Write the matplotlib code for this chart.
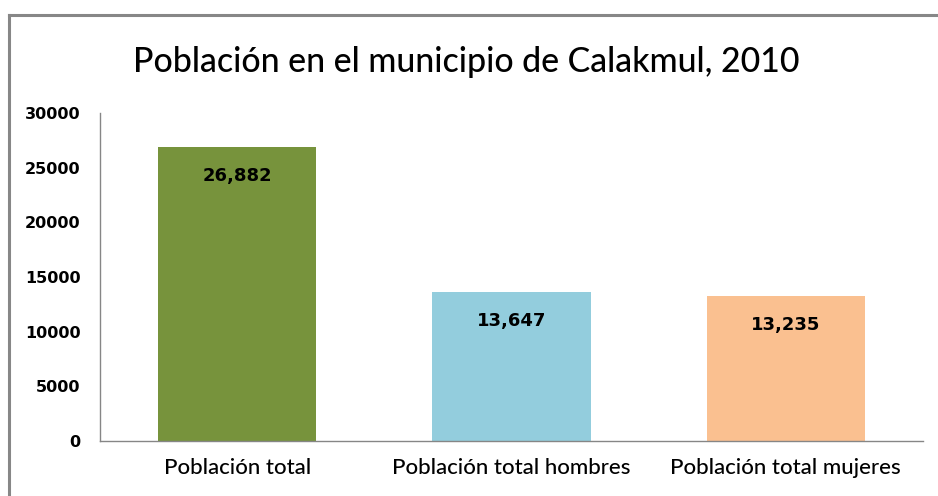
import matplotlib
matplotlib.use("Agg")
import matplotlib.pyplot as plt
from matplotlib.lines import Line2D

categories = ["Población total", "Población total hombres", "Población total mujeres"]
values = [26882, 13647, 13235]
labels = ["26,882", "13,647", "13,235"]
colors = ["#77933C", "#93CDDD", "#FAC090"]
yticks = [0, 5000, 10000, 15000, 20000, 25000, 30000]
title = "Población en el municipio de Calakmul, 2010"

W, H = 938, 496
fig = plt.figure(figsize=(W / 100, H / 100), dpi=100)
ax = fig.add_axes([100 / W, 55 / H, 823 / W, 328 / H])

x = range(len(categories))
bars = ax.bar(x, values, width=0.576, color=colors, zorder=2)
ax.set_xlim(-0.5, len(categories) - 0.5)
ax.set_ylim(0, 30000)
ax.set_yticks(yticks)
ax.set_yticklabels([str(t) for t in yticks], fontfamily="DejaVu Sans",
                   fontweight="bold", fontsize=11.5)
ax.set_xticks(list(x))
ax.set_xticklabels(categories, fontfamily="Lato", fontweight="medium", fontsize=16)
ax.tick_params(axis="both", length=0)
ax.tick_params(axis="y", pad=14)
ax.tick_params(axis="x", pad=12)
for s in ["top", "right"]:
    ax.spines[s].set_visible(False)
for s in ["left", "bottom"]:
    ax.spines[s].set_color("#868686")
    ax.spines[s].set_linewidth(1.0)

for b, lab in zip(bars, labels):
    ax.annotate(lab, (b.get_x() + b.get_width() / 2, b.get_height()),
                xytext=(0, -21), textcoords="offset points",
                ha="center", va="center", fontfamily="DejaVu Sans",
                fontweight="bold", fontsize=13)

fig.text(466 / W, 1 - 62 / H, title, ha="center", va="center",
         fontfamily="Lato", fontweight="medium", fontsize=24.4)

# frame lines (top and left)
fig.add_artist(Line2D([8.5 / W, 1.0], [1 - 14.5 / H, 1 - 14.5 / H],
                      transform=fig.transFigure, color="#878787", linewidth=2.2))
fig.add_artist(Line2D([8.5 / W, 8.5 / W], [0, 1 - 14.5 / H],
                      transform=fig.transFigure, color="#878787", linewidth=2.2))

fig.savefig("out.png", dpi=100)
